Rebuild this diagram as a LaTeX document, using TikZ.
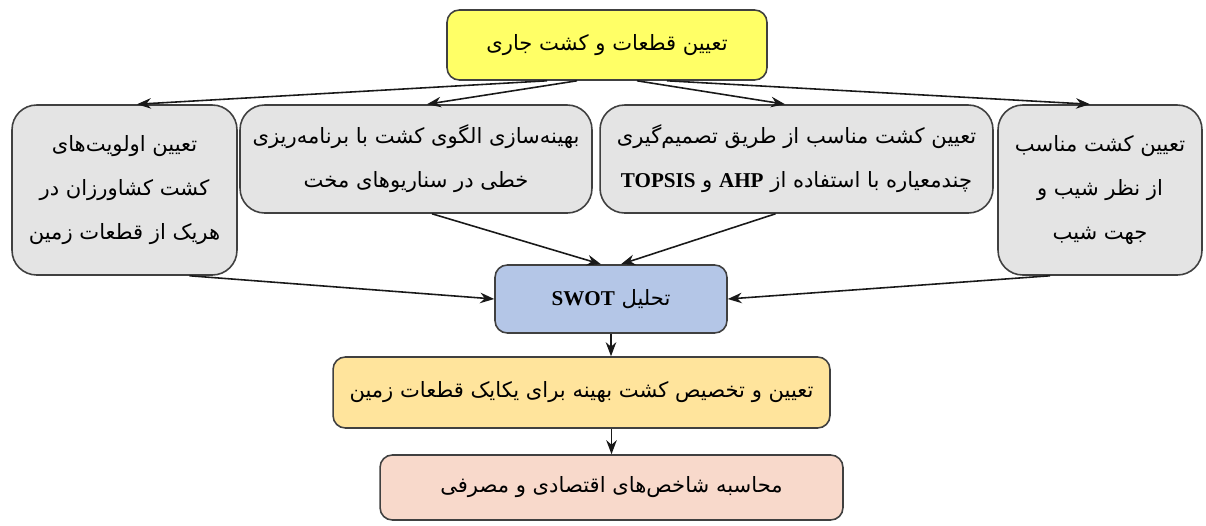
\documentclass[tikz,border=0pt]{standalone}
\usepackage{fontspec}
\setmainfont{Liberation Serif}
\newfontfamily\arabicfont[Script=Arabic]{DejaVu Sans}
\newfontfamily\latinfont{Liberation Serif}
\TeXXeTstate=1
\usetikzlibrary{positioning, arrows.meta, calc}
\definecolor{boxyellow}{HTML}{FFFF66}
\definecolor{boxgray}{HTML}{E4E4E4}
\definecolor{boxblue}{HTML}{B4C6E7}
\definecolor{boxkhaki}{HTML}{FFE49C}
\definecolor{boxpeach}{HTML}{F8D9CB}
\newcommand{\fa}[1]{\beginR #1\endR}
\newcommand{\lt}[1]{\beginL{\latinfont\bfseries #1}\endL}
\tikzset{
	>={Stealth[length=8pt, width=6pt]},
	flowbox/.style={draw=black!75, line width=0.9pt, rounded corners=7pt, align=center, inner sep=0pt,
		font=\arabicfont\fontsize{12}{25}\selectfont},
	bigbox/.style={flowbox, fill=boxgray, rounded corners=14pt},
	flowline/.style={->, line width=0.9pt, black!90},
}

\begin{document}
\begin{tikzpicture}[x=0.02cm, y=-0.02cm]
	\useasboundingbox (0,0) rectangle (1206,525);
	% top and side boxes
	\node[flowbox, fill=boxyellow, minimum width=6.4cm, minimum height=1.4cm] (CURRENT) at (607,45) {\fa{تعیین قطعات و کشت جاری}};
	\node[bigbox, minimum width=4.5cm, minimum height=3.4cm] (PRIORITY) at (124.5,190)
		{\fa{تعیین اولویت‌های}\\\fa{کشت کشاورزان در}\\\fa{هریک از قطعات زمین}};
	\node[bigbox, minimum width=7.04cm, minimum height=2.16cm] (LINEAR) at (416,159)
		{\fa{بهینه‌سازی الگوی کشت با برنامه‌ریزی}\\\fa{خطی در سناریوهای مخت}};
	\node[bigbox, minimum width=7.86cm, minimum height=2.16cm] (MCDM) at (796.5,159)
		{\fa{تعیین کشت مناسب از طریق تصمیم‌گیری}\\\fa{چندمعیاره با استفاده از \lt{AHP} و \lt{TOPSIS}}};
	\node[bigbox, minimum width=4.08cm, minimum height=3.4cm] (SLOPE) at (1100,190)
		{\fa{تعیین کشت مناسب}\\\fa{از نظر شیب و}\\\fa{جهت شیب}};
	% lower chain
	\node[flowbox, fill=boxblue, minimum width=4.64cm, minimum height=1.36cm] (SWOT) at (611,299) {\fa{تحلیل \lt{SWOT}}};
	\node[flowbox, fill=boxkhaki, minimum width=9.94cm, minimum height=1.42cm] (ALLOC) at (581.5,392.5) {\fa{تعیین و تخصیص کشت بهینه برای یکایک قطعات زمین}};
	\node[flowbox, fill=boxpeach, minimum width=9.26cm, minimum height=1.3cm] (INDEX) at (611.5,487.5) {\fa{محاسبه شاخص‌های اقتصادی و مصرفی}};

	\draw[flowline] ([xshift=-1.2cm]CURRENT.south) -- ([xshift=0.25cm]PRIORITY.north);
	\draw[flowline] ([xshift=-0.6cm]CURRENT.south) -- ([xshift=0.22cm]LINEAR.north);
	\draw[flowline] ([xshift=0.6cm]CURRENT.south) -- ([xshift=-0.23cm]MCDM.north);
	\draw[flowline] ([xshift=1.2cm]CURRENT.south) -- ([xshift=-0.2cm]SLOPE.north);
	\draw[flowline] ([xshift=1.3cm]PRIORITY.south) -- (SWOT.west);
	\draw[flowline] ([xshift=0.32cm]LINEAR.south) -- ([xshift=-0.2cm]SWOT.north);
	\draw[flowline] ([xshift=-0.42cm]MCDM.south) -- ([xshift=0.2cm]SWOT.north);
	\draw[flowline] ([xshift=-1cm]SLOPE.south) -- (SWOT.east);
	\draw[flowline] (SWOT.south) -- (SWOT.south |- ALLOC.north);
	\draw[flowline] (ALLOC.south -| INDEX.north) -- (INDEX.north);
\end{tikzpicture}
\end{document}
